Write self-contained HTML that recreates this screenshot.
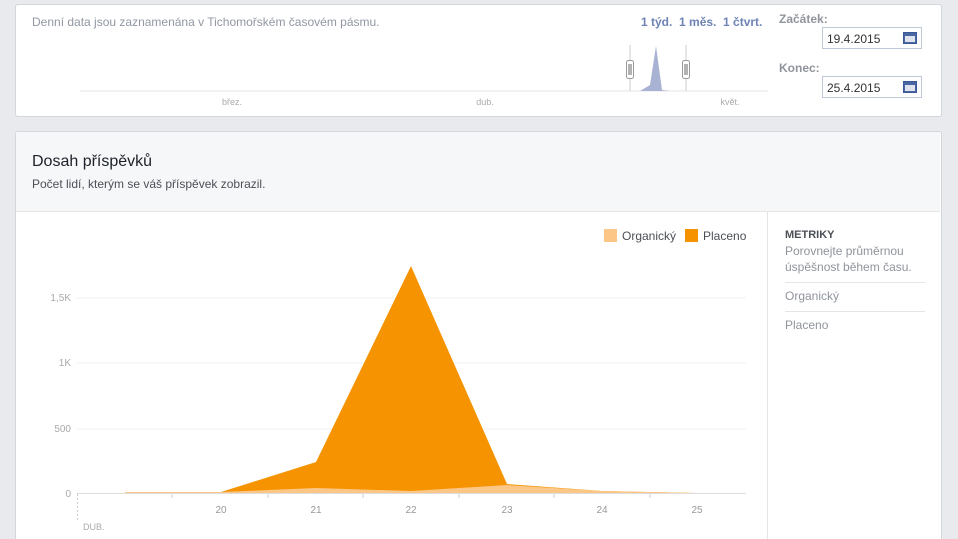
<!DOCTYPE html><html><head><meta charset="utf-8"><style>
html,body{margin:0;width:958px;height:539px;overflow:hidden}
body{background:#e9eaed;font-family:"Liberation Sans",sans-serif;position:relative}
.box{position:absolute;background:#fff;border:1px solid #d3d6db;border-radius:3px}
.t{position:absolute;white-space:nowrap}
.inp{position:absolute;width:100px;height:22px;border:1px solid #bdc7d8;background:#fff;font-size:12px;color:#333;box-sizing:border-box;padding:4px 0 0 4px}
.cal{position:absolute;right:4px;top:4px;width:14px;height:12px;background:#4b67a1;border:1px solid #3b5998;box-sizing:border-box}
.cal:after{content:"";position:absolute;left:1px;right:1px;top:3px;bottom:1px;background:#dfe3ee}
</style></head><body>
<div class="box" style="left:15px;top:4px;width:925px;height:111px"></div>
<div class="t" style="left:32px;top:15px;font-size:12px;color:#9197a3">Denní data jsou zaznamenána v Tichomořském časovém pásmu.</div>
<div class="t" style="left:641px;top:15px;font-size:12px;color:#6d84b4;font-weight:bold">1 týd.&nbsp; 1 měs.&nbsp; 1 čtvrt.</div>
<div class="t" style="left:779px;top:12px;font-size:12px;color:#90949c;font-weight:bold">Začátek:</div>
<div class="t" style="left:779px;top:61px;font-size:12px;color:#90949c;font-weight:bold">Konec:</div>
<div class="inp" style="left:822px;top:27px">19.4.2015<div class="cal"></div></div>
<div class="inp" style="left:822px;top:76px">25.4.2015<div class="cal"></div></div>
<svg style="position:absolute;left:0;top:0" width="958" height="120">
<line x1="80" y1="91" x2="768" y2="91" stroke="#e5e5e5"/>
<polygon points="640,91 650,85 656,46 662,90 670,91" fill="#a8b3d3"/>
<line x1="630" y1="45" x2="630" y2="91" stroke="#ccc"/><line x1="686" y1="45" x2="686" y2="91" stroke="#ccc"/>
<rect x="626.5" y="60.5" width="7" height="18" rx="2" fill="#fff" stroke="#999"/><rect x="682.5" y="60.5" width="7" height="18" rx="2" fill="#fff" stroke="#999"/>
<line x1="629" y1="64" x2="629" y2="75" stroke="#666"/><line x1="631" y1="64" x2="631" y2="75" stroke="#666"/>
<line x1="685" y1="64" x2="685" y2="75" stroke="#666"/><line x1="687" y1="64" x2="687" y2="75" stroke="#666"/>
<text x="232" y="105" font-size="9" fill="#aaa" text-anchor="middle" font-family="Liberation Sans">břez.</text>
<text x="485" y="105" font-size="9" fill="#aaa" text-anchor="middle" font-family="Liberation Sans">dub.</text>
<text x="730" y="105" font-size="9" fill="#aaa" text-anchor="middle" font-family="Liberation Sans">květ.</text>
</svg>
<div class="box" style="left:15px;top:131px;width:925px;height:420px"></div>
<div style="position:absolute;left:16px;top:132px;width:924px;height:79px;background:#f6f7f9;border-bottom:1px solid #e5e5e5"></div>
<div class="t" style="left:32px;top:153px;font-size:16px;color:#1d2129">Dosah příspěvků</div>
<div class="t" style="left:32px;top:177px;font-size:12px;color:#4b4f56">Počet lidí, kterým se váš příspěvek zobrazil.</div>
<div style="position:absolute;left:767px;top:212px;width:1px;height:330px;background:#e5e5e5"></div>
<div class="t" style="left:785px;top:229px;font-size:11px;color:#4b4f56;font-weight:bold">METRIKY</div>
<div class="t" style="left:785px;top:243px;font-size:12px;color:#90949c;line-height:16px">Porovnejte průměrnou<br>úspěšnost během času.</div>
<div style="position:absolute;left:785px;top:282px;width:140px;height:1px;background:#e5e5e5"></div>
<div class="t" style="left:785px;top:289px;font-size:12px;color:#90949c">Organický</div>
<div style="position:absolute;left:785px;top:311px;width:140px;height:1px;background:#e5e5e5"></div>
<div class="t" style="left:785px;top:318px;font-size:12px;color:#90949c">Placeno</div>
<svg style="position:absolute;left:0;top:0" width="958" height="539" font-family="Liberation Sans">
<rect x="604" y="229" width="13" height="13" fill="#fbc686"/><text x="622" y="240" font-size="12" fill="#4b4f56">Organický</text>
<rect x="685" y="229" width="13" height="13" fill="#f59400"/><text x="703" y="240" font-size="12" fill="#4b4f56">Placeno</text>
<g stroke="#f0f0f0"><line x1="77" y1="298" x2="746" y2="298"/><line x1="77" y1="363" x2="746" y2="363"/><line x1="77" y1="429" x2="746" y2="429"/></g>
<g font-size="10" fill="#aaa" text-anchor="end"><text x="71" y="301">1,5K</text><text x="71" y="366">1K</text><text x="71" y="432">500</text><text x="71" y="497">0</text></g>
<polygon points="125,493 125,492 221,492 316,462 411,266 507,484 602,491 697,493 697,493" fill="#f59400"/>
<polygon points="125,493 125,492 221,492 316,488 411,491 507,485 602,491 697,493" fill="#fbc686"/>
<line x1="77" y1="493.5" x2="746" y2="493.5" stroke="#ddd"/>
<g stroke="#ccc"><line x1="172" y1="494" x2="172" y2="498"/><line x1="268" y1="494" x2="268" y2="498"/><line x1="363" y1="494" x2="363" y2="498"/><line x1="459" y1="494" x2="459" y2="498"/><line x1="554" y1="494" x2="554" y2="498"/><line x1="650" y1="494" x2="650" y2="498"/></g>
<line x1="77.5" y1="494" x2="77.5" y2="522" stroke="#ccc" stroke-dasharray="2,2"/>
<g font-size="10" fill="#999" text-anchor="middle"><text x="221" y="513">20</text><text x="316" y="513">21</text><text x="411" y="513">22</text><text x="507" y="513">23</text><text x="602" y="513">24</text><text x="697" y="513">25</text></g>
<text x="83" y="530" font-size="9" fill="#aaa">DUB.</text>
</svg>
</body></html>
